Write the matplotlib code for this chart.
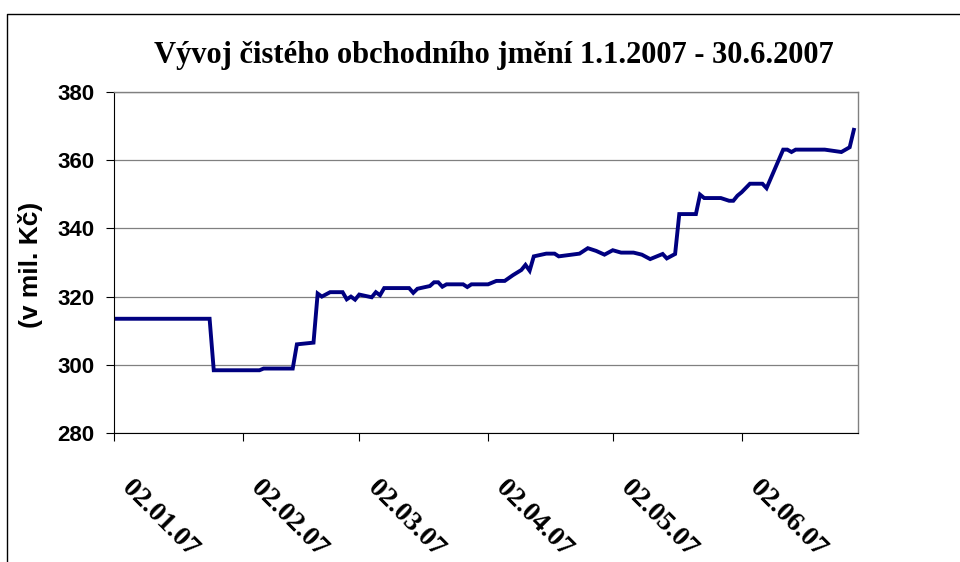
import matplotlib
matplotlib.use("Agg")
import matplotlib.pyplot as plt
import matplotlib.dates as mdates
import matplotlib.transforms as mtrans
from matplotlib.lines import Line2D
import pandas as pd

# data (mil. Kč)
dates = ["2007-01-02", "2007-01-25", "2007-01-26", "2007-02-06", "2007-02-07",
         "2007-02-14", "2007-02-15", "2007-02-19", "2007-02-20", "2007-02-21",
         "2007-02-23", "2007-02-26", "2007-02-27", "2007-02-28", "2007-03-01",
         "2007-03-02", "2007-03-05", "2007-03-06", "2007-03-07", "2007-03-08",
         "2007-03-14", "2007-03-15", "2007-03-16", "2007-03-19", "2007-03-20",
         "2007-03-21", "2007-03-22", "2007-03-23", "2007-03-27", "2007-03-28",
         "2007-03-29", "2007-04-02", "2007-04-04", "2007-04-06", "2007-04-08",
         "2007-04-10", "2007-04-11", "2007-04-12", "2007-04-13", "2007-04-16",
         "2007-04-18", "2007-04-19", "2007-04-24", "2007-04-26", "2007-04-28",
         "2007-04-30", "2007-05-02", "2007-05-04", "2007-05-07", "2007-05-09",
         "2007-05-11", "2007-05-14", "2007-05-15", "2007-05-17", "2007-05-18",
         "2007-05-22", "2007-05-23", "2007-05-24", "2007-05-28", "2007-05-30",
         "2007-05-31", "2007-06-01", "2007-06-02", "2007-06-04", "2007-06-07",
         "2007-06-08", "2007-06-12", "2007-06-13", "2007-06-14", "2007-06-15",
         "2007-06-22", "2007-06-26", "2007-06-27", "2007-06-28", "2007-06-29"]
values = [313.5, 313.5, 298.4, 298.4, 298.9, 298.9, 306.0, 306.5, 320.9, 320.0,
          321.3, 321.3, 319.2, 320.0, 319.1, 320.6, 319.8, 321.3, 320.4, 322.5,
          322.5, 321.1, 322.3, 323.1, 324.2, 324.2, 322.9, 323.6, 323.6, 322.8,
          323.6, 323.6, 324.6, 324.6, 326.3, 327.8, 329.3, 327.6, 331.8, 332.6,
          332.6, 331.8, 332.6, 334.2, 333.4, 332.3, 333.6, 332.9, 332.9, 332.3,
          331.0, 332.5, 331.2, 332.5, 344.2, 344.2, 349.9, 348.9, 348.9, 348.1,
          348.1, 349.6, 350.6, 353.1, 353.1, 351.8, 363.1, 363.1, 362.4, 363.1,
          363.1, 362.4, 363.1, 363.8, 368.9]
x_ticks = ["2007-01-02", "2007-02-02", "2007-03-02", "2007-04-02", "2007-05-02", "2007-06-02"]
y_ticks = [280, 300, 320, 340, 360, 380]

title = "Vývoj čistého obchodního jmění 1.1.2007 - 30.6.2007"
ylabel = "(v mil. Kč)"

fig = plt.figure(figsize=(9.6, 5.62), dpi=100)
ax = fig.add_axes([114 / 960, 1 - 433 / 562, 744 / 960, 341 / 562])

ax.plot(pd.to_datetime(dates), values, color="#000080", linewidth=2.8, solid_joinstyle="miter")

ax.set_xlim(pd.Timestamp("2007-01-02"), pd.Timestamp("2007-06-30"))
ax.set_ylim(280, 380)
ax.set_yticks(y_ticks)
ax.yaxis.grid(True, color="#808080", linewidth=0.9)
ax.set_axisbelow(True)

ax.set_xticks(pd.to_datetime(x_ticks))
ax.xaxis.set_major_formatter(mdates.DateFormatter("%d.%m.%y"))

for s in ["top", "right"]:
    ax.spines[s].set_color("#808080")
    ax.spines[s].set_linewidth(1.0)
for s in ["left", "bottom"]:
    ax.spines[s].set_color("black")
    ax.spines[s].set_linewidth(0.8)

ax.tick_params(axis="y", direction="out", length=6, width=0.8, pad=8,
               labelsize=16)
ax.tick_params(axis="x", direction="out", length=6, width=0.8, pad=0)
for lab in ax.get_yticklabels():
    lab.set_fontweight("bold")
    lab.set_fontfamily("Liberation Sans")

offset = mtrans.ScaledTranslation(0.12, -0.43, fig.dpi_scale_trans)
for lab in ax.get_xticklabels():
    lab.set_fontfamily("Liberation Serif")
    lab.set_fontweight("bold")
    lab.set_fontsize(20)
    lab.set_rotation(-45)
    lab.set_rotation_mode("anchor")
    lab.set_ha("left")
    lab.set_va("center")
    lab.set_transform(lab.get_transform() + offset)

ax.set_ylabel(ylabel, fontsize=19, fontweight="bold", family="Liberation Sans")
ax.yaxis.set_label_coords(43 / 960, 1 - 265 / 562, transform=fig.transFigure)

fig.text(494 / 960, 1 - 56 / 562, title, ha="center", va="center",
         fontsize=22, fontweight="bold", family="Liberation Serif")

# outer chart frame (only left and top edges visible)
fig.add_artist(Line2D([7 / 960, 7 / 960, 1.0], [0.0, 1 - 14 / 562, 1 - 14 / 562],
                      transform=fig.transFigure, color="black", linewidth=1.0))

fig.savefig("out.png", dpi=100)
